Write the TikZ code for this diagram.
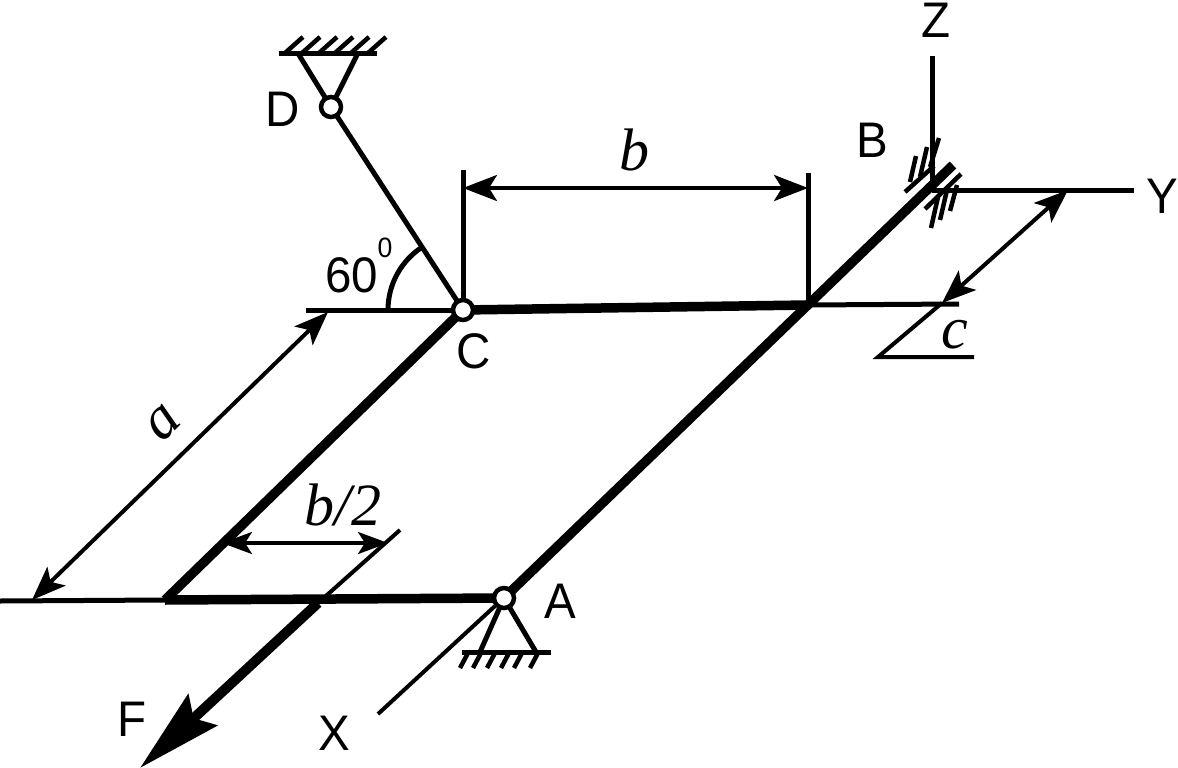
\documentclass[tikz,border=0pt]{standalone}
\usepackage{fontspec}
\setmainfont[FakeStretch=0.95]{Liberation Sans}
\newfontfamily\serifit{Liberation Serif}
\usetikzlibrary{arrows.meta}
\tikzset{
  axisline/.style={line width=5pt},
  thinline/.style={line width=4pt},
  beam/.style={line width=9.5pt},
  hatch/.style={line width=4.5pt},
  dimarrow/.style={line width=4pt,{Stealth[length=34pt,width=26pt,inset=8pt]}-{Stealth[length=34pt,width=26pt,inset=8pt]}},
  smalldim/.style={line width=3.5pt,{Stealth[length=30pt,width=22pt,inset=7pt]}-{Stealth[length=30pt,width=22pt,inset=7pt]}},
  force/.style={line width=10pt,-{Stealth[length=85pt,width=42pt,inset=12pt]}},
  hinge/.style={circle,draw,fill=white,line width=4.5pt,minimum size=20pt,inner sep=0pt},
  lab/.style={font=\fontsize{50}{53}\selectfont,inner sep=0pt},
  mathlab/.style={font=\fontsize{60}{62}\selectfont\serifit\itshape,inner sep=0pt},
}
\begin{document}
\begin{tikzpicture}[x=1pt,y=-1pt]
\useasboundingbox (0,0) rectangle (1178,768);
% key points
\coordinate (pC) at (463,310);
\coordinate (pD) at (331,107);
\coordinate (pA) at (504,598);
\coordinate (pE) at (808,305);
\coordinate (pB) at (953,165);
\coordinate (pG) at (165,600);
\coordinate (pO) at (932,189);
\coordinate (zEnd) at (932,56);
\coordinate (yEnd) at (1134,190);
\coordinate (xEnd) at (378,714);
\coordinate (xStart) at (495,606);
% thin reference lines
\coordinate (leftC) at (306,310);
\coordinate (leftG) at (0,601);
\coordinate (rightE) at (959,304);
\draw[axisline] (leftC) -- (pC);
\draw[axisline] (leftG) -- (pG);
\draw[axisline] (pE) -- (rightE);
\draw[axisline] (zEnd) -- (pO);
\draw[axisline] (pO |- yEnd) -- (yEnd);
\draw[thinline] (xEnd) -- (xStart);
% beams
\draw[beam] (pC) -- (pE);
\draw[beam,line cap=butt] (pA) -- (pB);
\draw[beam] (pG) -- (pC);
\draw[beam] (pG) -- (pA);
% bar CD
\draw[axisline] (pD) -- (pC);
% angle
\coordinate (arcStart) at (388,310);
\draw[axisline] (arcStart) arc[start angle=180,end angle=123,radius=75pt,x=1pt,y=1pt];
% force F
\coordinate (fTop) at (400,530);
\coordinate (fMid) at (318,603);
\coordinate (fTip) at (140,768);
\draw[thinline] (fTop) -- (fMid);
\draw[force] (fMid) -- (fTip);
% dimension extension lines
\coordinate (bL) at (463,170);
\coordinate (bR) at (808,173);
\draw[axisline] (bL) -- (pC);
\draw[axisline] (bR) -- (pE);
% dimension b
\coordinate (bA) at (463,188);
\coordinate (bB) at (808,188);
\draw[dimarrow] (bA) -- (bB);
% dimension a
\coordinate (aA) at (32,600);
\coordinate (aB) at (328,312);
\draw[dimarrow] (aA) -- (aB);
% dimension b/2
\coordinate (hA) at (222,543);
\coordinate (hB) at (388,543);
\draw[smalldim] (hA) -- (hB);
% dimension c
\coordinate (cA) at (942,303);
\coordinate (cB) at (1068,190);
\coordinate (cFoot) at (878,357);
\coordinate (cFootR) at (974,357);
\draw[dimarrow] (cA) -- (cB);
\draw[thinline] (cFootR) -- (cFoot) -- (cA);
% fixed support B
\coordinate (p1a) at (905,192);
\coordinate (p1b) at (934,166);
\coordinate (p2a) at (925,209);
\coordinate (p2b) at (961,174);
\draw[hatch] (p1a) -- (p1b);
\draw[hatch] (p2a) -- (p2b);
\foreach \xa/\ya/\xb/\yb in {910/182/916/156,920/177/927/147,930/167/939/138,
                             931/228/938/197,940/220/947/190,950/211/957/185}
  \draw[hatch] (\xa,\ya) -- (\xb,\yb);
% support D
\coordinate (gDl) at (279,54);
\coordinate (gDr) at (377,54);
\coordinate (tDl) at (299,55);
\coordinate (tDr) at (357,55);
\draw[axisline] (gDl) -- (gDr);
\draw[axisline] (tDl) -- (pD) -- (tDr);
\foreach \x in {285,302,319,335,351,368}
  \draw[hatch] (\x,53) -- (\x+18,37);
% support A
\coordinate (gAl) at (462,652);
\coordinate (gAr) at (551,652);
\coordinate (tAl) at (480,652);
\coordinate (tAr) at (536,652);
\draw[axisline] (gAl) -- (gAr);
\draw[axisline] (tAl) -- (pA) -- (tAr);
\foreach \x in {468,481,495,509,522,538}
  \draw[hatch] (\x,653) -- (\x-8,668);
% hinges
\node[hinge] (D) at (pD) {};
\node[hinge] (C) at (pC) {};
\node[hinge] (A) at (pA) {};
% labels
\node[lab] (lZ) at (936,20.5) {Z};
\node[lab] (lB) at (872,140) {B};
\node[lab] (lY) at (1162,196) {Y};
\node[lab] (lD) at (283,109) {D};
\node[lab] (lC) at (474,351) {C};
\node[lab] (l60) at (352,275) {60};
\node[lab,font=\fontsize{28}{30}\selectfont] (l0) at (385,248) {0};
\node[lab] (lA) at (560,601) {A};
\node[lab] (lF) at (132,719) {F};
\node[lab] (lX) at (334,733) {X};
\node[mathlab] (lb) at (634,150) {b};
\node[mathlab,rotate=45] (la) at (163,423) {a};
\node[mathlab] (lc) at (955,335) {c};
\node[mathlab] (lh) at (343,505) {b/2};
\end{tikzpicture}
\end{document}
